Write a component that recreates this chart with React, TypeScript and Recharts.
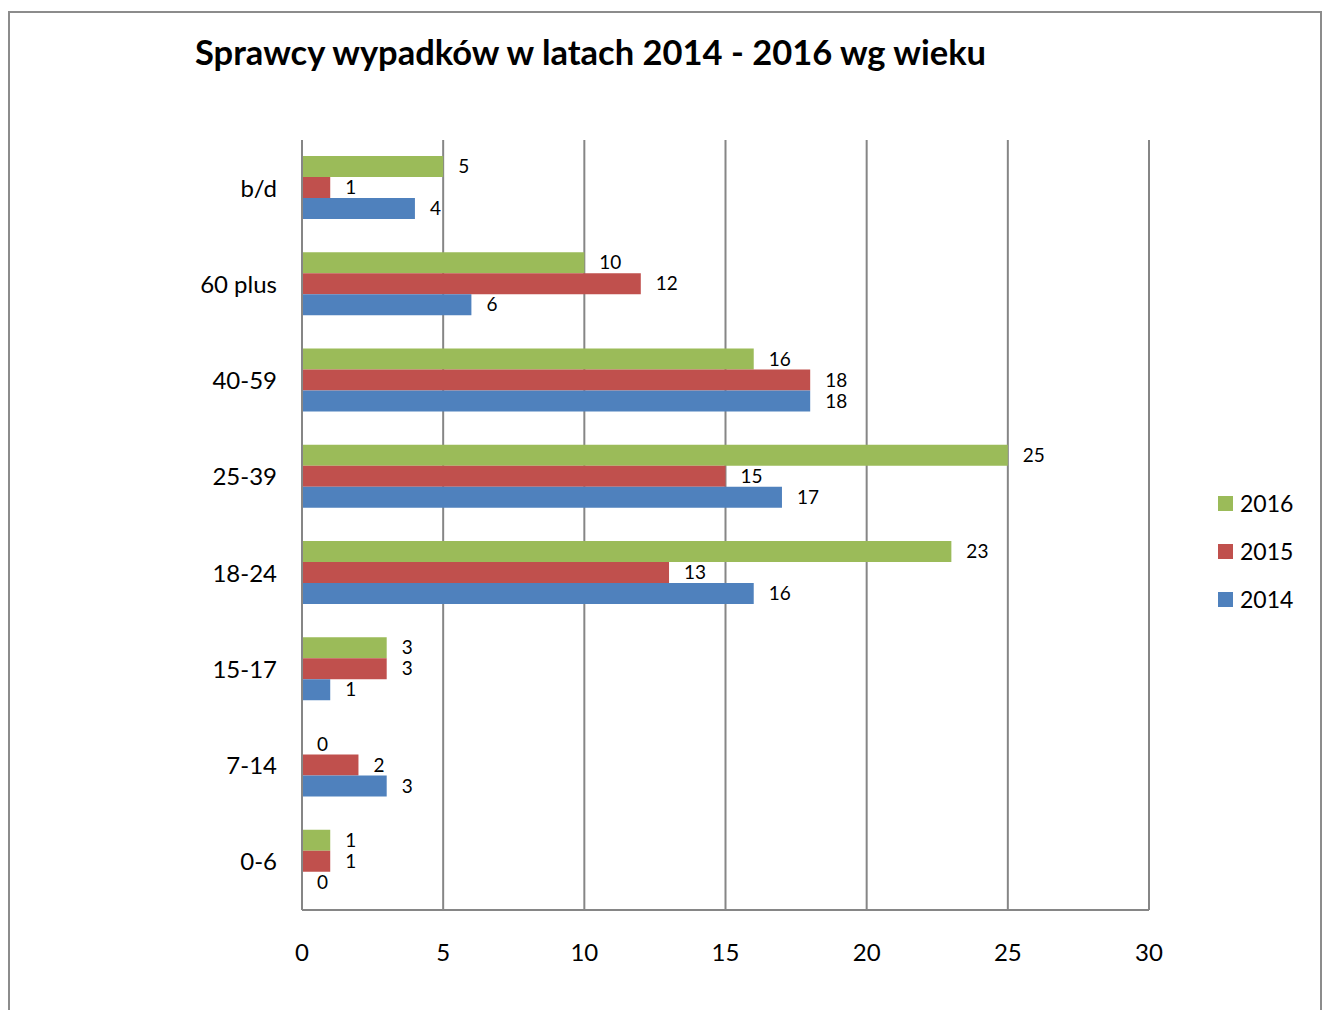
import React from 'react';
import { BarChart, Bar, XAxis, YAxis, CartesianGrid, LabelList } from 'recharts';

const categories = ['b/d', '60 plus', '40-59', '25-39', '18-24', '15-17', '7-14', '0-6'];
const values2016 = [5, 10, 16, 25, 23, 3, 0, 1];
const values2015 = [1, 12, 18, 15, 13, 3, 2, 1];
const values2014 = [4, 6, 18, 17, 16, 1, 3, 0];
const xTicks = [0, 5, 10, 15, 20, 25, 30];

const series = [
  { key: 'y2016', name: '2016', color: '#9BBB59' },
  { key: 'y2015', name: '2015', color: '#C0504D' },
  { key: 'y2014', name: '2014', color: '#4F81BD' },
];

const data = categories.map((c, i) => ({
  name: c,
  y2016: values2016[i],
  y2015: values2015[i],
  y2014: values2014[i],
}));

const FONT = 'Lato, "Open Sans", sans-serif';

// own label so that zero values still get their "0"
const valueLabel = (p: any) => {
  const x = Number(p.x) + Number(p.width || 0) + 15;
  const y = Number(p.y) + Number(p.height) / 2;
  return (
    <text x={x} y={y} dy="0.35em" fill="#000" fontSize={19} fontFamily={FONT}>
      {String(p.value)}
    </text>
  );
};

export default function App() {
  return (
    <div
      style={{
        position: 'absolute',
        left: 8,
        top: 11,
        width: 1314,
        height: 1010,
        border: '2px solid #8c8c8c',
        boxSizing: 'border-box',
        background: '#fff',
        fontFamily: FONT,
      }}
    >
      <div
        style={{
          position: 'absolute',
          left: 185,
          top: 18,
          fontSize: 34.5,
          fontWeight: 700,
          color: '#000',
          whiteSpace: 'nowrap',
        }}
      >
        Sprawcy wypadków w latach 2014 - 2016 wg wieku
      </div>
      <BarChart
        width={1310}
        height={990}
        data={data}
        layout="vertical"
        margin={{ top: 127, right: 171, left: 0, bottom: 63 }}
        barCategoryGap={16}
        barGap={0}
      >
        <CartesianGrid horizontal={false} stroke="#868686" strokeWidth={2} />
        <XAxis
          type="number"
          domain={[0, 30]}
          ticks={xTicks}
          interval={0}
          tickLine={false}
          axisLine={{ stroke: '#868686', strokeWidth: 2 }}
          tickSize={0}
          tickMargin={34}
          tick={{ fill: '#000', fontSize: 24, fontFamily: FONT }}
        />
        <YAxis
          type="category"
          dataKey="name"
          width={292}
          tickLine={false}
          axisLine={{ stroke: '#868686', strokeWidth: 2 }}
          tickSize={0}
          tickMargin={25}
          tick={{ fill: '#000', fontSize: 24, fontFamily: FONT }}
        />
        {series.map((s) => (
          <Bar
            key={s.key}
            dataKey={s.key}
            name={s.name}
            fill={s.color}
            minPointSize={0.01}
            isAnimationActive={false}
          >
            <LabelList dataKey={s.key} content={valueLabel} />
          </Bar>
        ))}
      </BarChart>
      <div style={{ position: 'absolute', left: 1208, top: 466 }}>
        {series.map((s) => (
          <div key={s.key} style={{ display: 'flex', alignItems: 'center', height: 48 }}>
            <span
              style={{ width: 15, height: 15, background: s.color, display: 'inline-block', marginRight: 7 }}
            />
            <span style={{ fontSize: 23, color: '#000' }}>{s.name}</span>
          </div>
        ))}
      </div>
    </div>
  );
}
